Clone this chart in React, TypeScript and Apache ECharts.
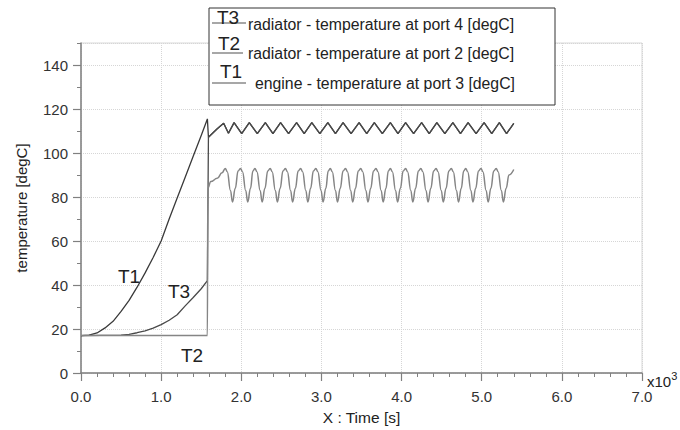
import React, { useEffect, useRef } from "react";
import * as echarts from "echarts";

// x values are in 10^3 s
const t1Rise: [number, number][] = [
  [0, 17], [0.1, 17.2], [0.2, 18.2], [0.3, 20.5], [0.4, 23.5], [0.5, 28], [0.6, 33],
  [0.7, 39], [0.8, 45.5], [0.9, 52.5], [1.0, 60], [1.1, 70], [1.2, 79.5], [1.3, 89],
  [1.4, 98.5], [1.5, 108], [1.577, 115.5],
];

const upperWave: [number, number][] = [
  [1.59, 107.2], [1.7, 111], [1.78, 113.5], [1.84, 109], [1.91, 113.8], [2.005, 108.8],
  [2.1, 113.8], [2.2, 108.8], [2.3, 113.8], [2.395, 108.8], [2.49, 113.8], [2.59, 108.8],
  [2.69, 113.8], [2.785, 108.8], [2.88, 113.8], [2.98, 108.8], [3.08, 113.8], [3.175, 108.8],
  [3.27, 113.8], [3.37, 108.8], [3.47, 113.8], [3.565, 108.8], [3.66, 113.8], [3.76, 108.8],
  [3.86, 113.8], [3.955, 108.8], [4.05, 113.8], [4.15, 108.8], [4.25, 113.8], [4.345, 108.8],
  [4.44, 113.8], [4.54, 108.8], [4.64, 113.8], [4.735, 108.8], [4.83, 113.8], [4.93, 108.8],
  [5.03, 113.8], [5.125, 108.8], [5.22, 113.8], [5.31, 108.8], [5.4, 113.5],
];

const t3Rise: [number, number][] = [
  [0, 17], [0.5, 17.2], [0.6, 17.6], [0.7, 18.3], [0.8, 19.2], [0.9, 20.4], [1.0, 22],
  [1.1, 24], [1.2, 26.5], [1.3, 30.5], [1.4, 34.3], [1.5, 38.3], [1.577, 42],
];

const t2Flat: [number, number][] = [
  [0, 17], [1.577, 17], [1.582, 84], [1.62, 87], [1.7, 88.5], [1.76, 91],
];

const lowerWave: [number, number][] = [
  [1.8, 93], [1.825, 91.5], [1.865, 83], [1.89, 77.7], [1.925, 84], [1.96, 91.8],
  [1.99, 93], [2.015, 91.5], [2.055, 83], [2.08, 77.7], [2.115, 84], [2.145, 91.8],
  [2.17, 93], [2.195, 91.5], [2.235, 83], [2.26, 77.7], [2.295, 84], [2.33, 91.8],
  [2.36, 93], [2.385, 91.5], [2.425, 83], [2.45, 77.7], [2.485, 84], [2.52, 91.8],
  [2.55, 93], [2.575, 91.5], [2.615, 83], [2.64, 77.7], [2.675, 84], [2.71, 91.8],
  [2.74, 93], [2.765, 91.5], [2.805, 83], [2.83, 77.7], [2.865, 84], [2.9, 91.8],
  [2.93, 93], [2.955, 91.5], [2.995, 83], [3.02, 77.7], [3.055, 84], [3.085, 91.8],
  [3.11, 93], [3.135, 91.5], [3.175, 83], [3.2, 77.7], [3.235, 84], [3.27, 91.8],
  [3.3, 93], [3.325, 91.5], [3.365, 83], [3.39, 77.7], [3.425, 84], [3.46, 91.8],
  [3.49, 93], [3.515, 91.5], [3.555, 83], [3.58, 77.7], [3.615, 84], [3.65, 91.8],
  [3.68, 93], [3.705, 91.5], [3.745, 83], [3.77, 77.7], [3.805, 84], [3.835, 91.8],
  [3.86, 93], [3.885, 91.5], [3.925, 83], [3.95, 77.7], [3.985, 84], [4.02, 91.8],
  [4.05, 93], [4.075, 91.5], [4.115, 83], [4.14, 77.7], [4.175, 84], [4.21, 91.8],
  [4.24, 93], [4.265, 91.5], [4.305, 83], [4.33, 77.7], [4.365, 84], [4.4, 91.8],
  [4.43, 93], [4.455, 91.5], [4.495, 83], [4.52, 77.7], [4.555, 84], [4.59, 91.8],
  [4.62, 93], [4.645, 91.5], [4.685, 83], [4.71, 77.7], [4.745, 84], [4.775, 91.8],
  [4.8, 93], [4.825, 91.5], [4.865, 83], [4.89, 77.7], [4.925, 84], [4.96, 91.8],
  [4.99, 93], [5.015, 91.5], [5.055, 83], [5.08, 77.7], [5.115, 84], [5.15, 91.8],
  [5.18, 93], [5.205, 91.5], [5.245, 83], [5.27, 77.7], [5.305, 84], [5.34, 90],
  [5.4, 92.5],
];

const legendRows = [
  { tag: "T3", text: "radiator - temperature at port 4 [degC]" },
  { tag: "T2", text: "radiator - temperature at port 2 [degC]" },
  { tag: "T1", text: "engine - temperature at port 3 [degC]" },
];

const xName = "X : Time [s]";
const yName = "temperature [degC]";

const FONT = "'Liberation Sans', Arial, sans-serif";

export default function App() {
  const ref = useRef<HTMLDivElement>(null);
  useEffect(() => {
    if (!ref.current) return;
    const chart = echarts.init(ref.current, undefined, { renderer: "svg" });
    const axisGray = "#808080";
    const splitStyle = { color: "#d6d6d6", type: "dotted" as const, width: 1 };
    const tagY = [17, 43.5, 71];
    const tagX = [217, 218, 220];
    chart.setOption({
      animation: false,
      backgroundColor: "#fff",
      grid: {
        left: 81, right: 38, top: 43, bottom: 51,
        show: true, borderColor: "#d8d8d8", borderWidth: 1, backgroundColor: "transparent",
      },
      xAxis: {
        type: "value", min: 0, max: 7, interval: 1,
        name: xName, nameLocation: "middle", nameGap: 36,
        nameTextStyle: { fontFamily: FONT, fontSize: 15.5, color: "#222" },
        axisLine: { show: true, lineStyle: { color: axisGray, width: 1.5 } },
        axisTick: { show: true, length: 8, lineStyle: { color: axisGray, width: 1.2 } },
        minorTick: { show: true, splitNumber: 5, length: 4, lineStyle: { color: axisGray, width: 1 } },
        axisLabel: {
          fontFamily: FONT, fontSize: 15, color: "#333", margin: 16,
          formatter: (v: number) => v.toFixed(1),
        },
        splitLine: { show: true, lineStyle: splitStyle },
      },
      yAxis: [
        {
          type: "value", min: 0, max: 150, interval: 10,
          axisLine: { show: true, lineStyle: { color: axisGray, width: 1.5 } },
          axisTick: { show: true, length: 4, lineStyle: { color: axisGray, width: 1 } },
          axisLabel: { show: false },
          splitLine: { show: false },
        },
        {
          type: "value", min: 0, max: 150, interval: 20, position: "left",
          name: yName, nameLocation: "middle", nameGap: 52, nameRotate: 90,
          nameTextStyle: { fontFamily: FONT, fontSize: 15, color: "#222" },
          axisLine: { show: false },
          axisTick: { show: true, length: 8, lineStyle: { color: axisGray, width: 1.2 } },
          axisLabel: {
            fontFamily: FONT, fontSize: 15, color: "#333", margin: 13, showMaxLabel: false,
          },
          splitLine: { show: true, lineStyle: splitStyle },
        },
      ],
      series: [
        {
          name: "T1", type: "line", yAxisIndex: 0, showSymbol: false,
          data: [...t1Rise, ...upperWave],
          lineStyle: { color: "#3a3a3a", width: 1.3 },
        },
        {
          name: "T3", type: "line", yAxisIndex: 0, showSymbol: false,
          data: [...t3Rise, ...upperWave],
          lineStyle: { color: "#4a4a4a", width: 1.3 },
        },
        {
          name: "T2", type: "line", yAxisIndex: 0, showSymbol: false,
          data: [...t2Flat, ...lowerWave],
          smooth: 0.45, smoothMonotone: "x",
          lineStyle: { color: "#858585", width: 1.5 },
        },
      ],
      graphic: [
        {
          type: "rect", z: 100,
          shape: { x: 209, y: 8, width: 346, height: 97 },
          style: { fill: "#fff", stroke: "#333", lineWidth: 1 },
        },
        ...legendRows.flatMap((r, i) => {
          const lineY = 23 + i * 30;
          return [
            {
              type: "line", z: 101,
              shape: { x1: 212, y1: lineY, x2: i === 1 ? 243 : 246, y2: lineY },
              style: { stroke: "#8a8a8a", lineWidth: 1.5 },
            },
            {
              type: "text", z: 102, x: tagX[i], y: tagY[i],
              style: {
                text: r.tag, fontFamily: FONT, fontSize: 19, fill: "#222",
                verticalAlign: "middle",
              },
            },
            {
              type: "text", z: 102, x: i === 2 ? 255 : 248, y: lineY + (i === 0 ? 1 : 0),
              style: {
                text: r.text, fontFamily: FONT, fontSize: 15.8, fill: "#222",
                verticalAlign: "middle",
              },
            },
          ];
        }),
        {
          type: "text", z: 50, x: 118, y: 276,
          style: { text: "T1", fontFamily: FONT, fontSize: 19, fill: "#222", verticalAlign: "middle" },
        },
        {
          type: "text", z: 50, x: 168, y: 291,
          style: { text: "T3", fontFamily: FONT, fontSize: 19, fill: "#222", verticalAlign: "middle" },
        },
        {
          type: "text", z: 50, x: 181, y: 355,
          style: { text: "T2", fontFamily: FONT, fontSize: 19, fill: "#222", verticalAlign: "middle" },
        },
        {
          type: "text", z: 50, x: 647, y: 381,
          style: {
            text: "{a|x10}{b|3}", verticalAlign: "middle",
            rich: {
              a: { fontFamily: FONT, fontSize: 15, fill: "#222", color: "#222" },
              b: { fontFamily: FONT, fontSize: 11, fill: "#222", color: "#222", verticalAlign: "top", padding: [0, 0, 10, 0] },
            },
          },
        },
      ],
    });
    return () => chart.dispose();
  }, []);
  return (
    <div
      ref={ref}
      style={{ position: "fixed", left: 0, top: 0, width: 680, height: 430, background: "#fff" }}
    />
  );
}
